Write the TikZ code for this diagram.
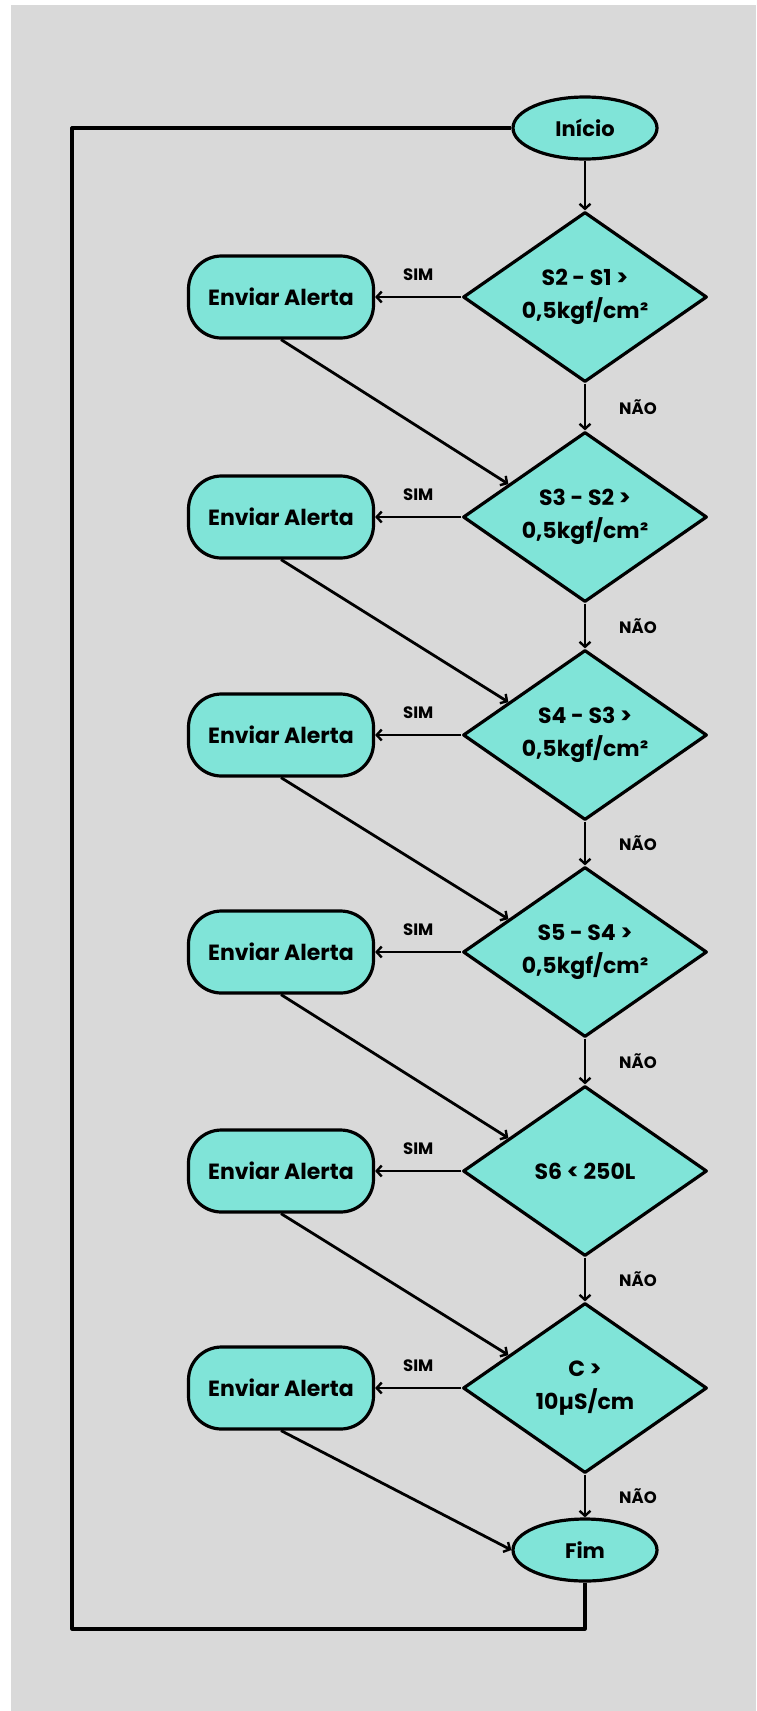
\documentclass[tikz,border=0pt]{standalone}
\usepackage{fontspec}
\setmainfont{Poppins}
\usetikzlibrary{shapes.geometric,arrows.meta,calc}
\definecolor{tealfill}{RGB}{128,228,216}
\definecolor{bggray}{RGB}{217,217,217}
\begin{document}
\begin{tikzpicture}[x=1pt,y=-1pt,line join=round,
  term/.style={ellipse,draw,fill=tealfill,line width=3.2pt,minimum width=144pt,minimum height=62pt,inner sep=0pt,font=\bfseries\fontsize{21}{24}\selectfont},
  dec/.style={diamond,draw,fill=tealfill,line width=3.2pt,minimum width=244pt,minimum height=170pt,inner sep=-20pt,align=center,font=\bfseries\fontsize{22}{33}\selectfont},
  alertbox/.style={rectangle,rounded corners=33pt,draw,fill=tealfill,line width=3.2pt,minimum width=185pt,minimum height=82pt,font=\bfseries\fontsize{22}{24}\selectfont},
  conn/.style={line width=2.8pt,-{Straight Barb[length=5pt,width=11pt,line width=2.4pt]}},
  loopline/.style={line width=3.2pt},
  lbl/.style={font=\bfseries\fontsize{16.5}{18}\selectfont}]
\useasboundingbox (0,0) rectangle (756,1711);
\fill[white] (0,0) rectangle (756,1711);
\fill[bggray] (11,5) rectangle (756,1711);

\node[term] (ini) at (585,128) {Início};
\node[dec] (d1) at (585,297) {S2 - S1 >\\0,5kgf/cm²};
\node[dec] (d2) at (585,517) {S3 - S2 >\\0,5kgf/cm²};
\node[dec] (d3) at (585,735) {S4 - S3 >\\0,5kgf/cm²};
\node[dec] (d4) at (585,952) {S5 - S4 >\\0,5kgf/cm²};
\node[dec] (d5) at (585,1171) {S6 < 250L};
\node[dec] (d6) at (585,1388) {C >\\10µS/cm};
\node[term] (fim) at (585,1550) {Fim};
\foreach \i/\y in {1/297,2/517,3/735,4/952,5/1171,6/1388}{
  \node[alertbox] (a\i) at (281,\y) {Enviar Alerta};
}

\draw[conn] (ini) -- (d1);
\foreach \i in {1,...,6}{
  \draw[conn] (d\i.west) -- node[lbl,midway,yshift=22pt] {SIM} (a\i.east);
}
\foreach \i/\j in {1/2,2/3,3/4,4/5,5/6}{
  \draw[conn] (d\i.south) -- node[lbl,midway,xshift=53pt] {NÃO} (d\j.north);
  \draw[conn] (a\i.south) -- ($(d\j.west)!0.38!(d\j.north)$);
}
\draw[conn] (d6.south) -- node[lbl,midway,xshift=53pt] {NÃO} (fim.north);
\draw[conn] (a6.south) -- (fim.west);

\coordinate (cBL) at (72,1629);
\draw[loopline] (fim.south) |- (cBL) |- (ini.west);
\end{tikzpicture}
\end{document}
